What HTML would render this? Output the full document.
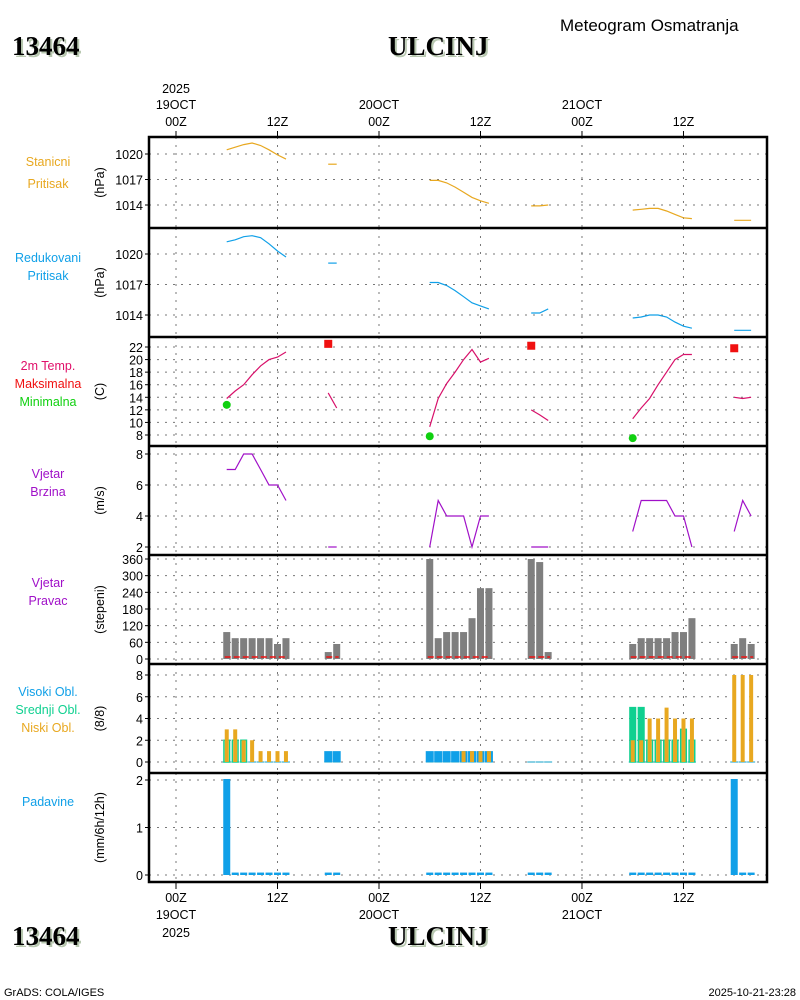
<!DOCTYPE html>
<html><head><meta charset="utf-8"><style>
html,body{margin:0;padding:0;background:#fff;}
svg{display:block;}
text{font-family:"Liberation Sans Narrow","Liberation Sans",sans-serif;}
.serif{font-family:"Liberation Serif",serif;font-weight:bold;}
</style></head><body>
<svg id="chart" width="800" height="1000" viewBox="0 0 800 1000" xmlns="http://www.w3.org/2000/svg">
<g id="g"></g>
</svg>
<script>
// observation hours since 19OCT 00Z
const obsHours = [6,7,8,9,10,11,12,13, 18,19, 30,31,32,33,34,35,36,37, 42,43,44, 54,55,56,57,58,59,60,61, 66,67,68];
const stationPressure = [1020.5,1020.8,1021.1,1021.3,1021.0,1020.5,1019.9,1019.4, 1018.8,1018.8, 1016.9,1016.9,1016.6,1016.1,1015.5,1014.9,1014.5,1014.2, 1013.9,1013.9,1014.0, 1013.4,1013.5,1013.6,1013.6,1013.3,1012.9,1012.5,1012.4, 1012.2,1012.2,1012.2];
const reducedPressure = [1021.2,1021.4,1021.7,1021.8,1021.6,1021.0,1020.3,1019.7, 1019.1,1019.1, 1017.2,1017.2,1016.9,1016.4,1015.8,1015.2,1014.9,1014.6, 1014.2,1014.2,1014.6, 1013.7,1013.8,1014.0,1014.0,1013.8,1013.3,1012.9,1012.7, 1012.5,1012.5,1012.5];
const temperature = [13.8,15.0,16.0,17.6,19.0,20.0,20.4,21.2, 14.7,12.3, 9.3,13.8,16.2,18.0,20.0,21.6,19.6,20.2, 12.0,11.2,10.3, 10.6,12.3,13.8,16.0,18.0,20.0,20.8,20.8, 14.0,13.8,14.0];
const maxHours = [18,42,66];
const maxTemp = [22.5,22.2,21.8];
const minHours = [6,30,54];
const minTemp = [12.8,7.8,7.5];
const windSpeed = [7,7,8,8,7,6,6,5, 2,2, 2,5,4,4,4,2,4,4, 2,2,2, 3,5,5,5,5,4,4,2, 3,5,4];
const windDir = [97,75,75,75,75,75,54,75, 25,54, 360,75,97,97,97,147,255,255, 360,349,25, 54,75,75,75,75,97,97,147, 54,75,54];
const cloudHigh = [0,0,0,0,0,0,0,0, 1,1, 1,1,1,1,1,1,1,1, 0,0,0, 0,0,0,0,0,0,0,0, 0,0,0];
const cloudMid = [2,2,2,0,0,0,0,0, 0,0, 0,0,0,0,0,0,0,0, 0,0,0, 5,5,2,2,2,2,3,2, 0,0,0];
const cloudLow = [3,3,2,2,1,1,1,1, 0,0, 0,0,0,0,1,1,1,1, 0,0,0, 2,2,4,4,5,4,4,4, 8,8,8];
const precip = [2,0.03,0.03,0.03,0.03,0.03,0.03,0.03, 0.03,0.03, 0.03,0.03,0.03,0.03,0.03,0.03,0.03,0.03, 0.03,0.03,0.03, 0.03,0.03,0.03,0.03,0.03,0.03,0.03,0.03, 2,0.03,0.03];
const xTickHours = [0,12,24,36,48,60];
const xTickTop = ["00Z","12Z","00Z","12Z","00Z","12Z"];
const xTickDay = ["19OCT","","20OCT","","21OCT",""];

const NS="http://www.w3.org/2000/svg";
const G=document.getElementById('g');
function el(tag,attrs,parent){const e=document.createElementNS(NS,tag);for(const k in attrs)e.setAttribute(k,attrs[k]);(parent||G).appendChild(e);return e;}
function txt(x,y,s,opt,name){const t=el('text',Object.assign({x:x,y:y,'font-size':12.5},opt||{}));t.textContent=s;


return t;}
const L=149,R=767;
function X(h){return 176+h*8.458;}
function scale(v1,y1,v2,y2){return v=>y1+(v-v1)*(y2-y1)/(v2-v1);}
const panels=[
 {name:'station-pressure',top:137,bot:228,y:scale(1020,154,1014,205),ticks:[1020,1017,1014],unit:'(hPa)',labels:[['Stanicni','#e8a820'],['Pritisak','#e8a820']],ly:[166,188]},
 {name:'reduced-pressure',top:228,bot:337,y:scale(1020,254,1014,315),ticks:[1020,1017,1014],unit:'(hPa)',labels:[['Redukovani','#10a0e8'],['Pritisak','#10a0e8']],ly:[262,280]},
 {name:'temperature',top:337,bot:446,y:scale(22,347,8,435),ticks:[22,20,18,16,14,12,10,8],unit:'(C)',labels:[['2m Temp.','#e0106a'],['Maksimalna','#f01010'],['Minimalna','#10d010']],ly:[370,388,406]},
 {name:'wind-speed',top:446,bot:555,y:scale(8,454,2,547),ticks:[8,6,4,2],unit:'(m/s)',labels:[['Vjetar','#a010c8'],['Brzina','#a010c8']],ly:[478,496]},
 {name:'wind-direction',top:555,bot:664,y:scale(0,659,360,559),ticks:[360,300,240,180,120,60,0],unit:'(stepeni)',labels:[['Vjetar','#a010c8'],['Pravac','#a010c8']],ly:[587,605]},
 {name:'clouds',top:664,bot:773,y:scale(0,762,8,675),ticks:[8,6,4,2,0],unit:'(8/8)',labels:[['Visoki Obl.','#10a0e8'],['Srednji Obl.','#10d090'],['Niski Obl.','#e8a820']],ly:[696,714,732]},
 {name:'precipitation',top:773,bot:882,y:scale(0,875,2,780),ticks:[2,1,0],unit:'(mm/6h/12h)',labels:[['Padavine','#10a0e8']],ly:[806]}
];
// headers
txt(560,31,'Meteogram Osmatranja',{'font-size':17,fill:'#000'},'chart-subtitle');
[[55,'station-id-top'],[945,'station-id-bottom']].forEach(([y,n])=>{
 txt(14,y+2,'13464',{'font-size':27,class:'serif',fill:'#b8c8b0'},n+'-shadow');
 txt(12,y,'13464',{'font-size':27,class:'serif',fill:'#000'},n);
 txt(390,y+2,'ULCINJ',{'font-size':27,class:'serif',fill:'#b8c8b0'},n.replace('station-id','station-name')+'-shadow');
 txt(388,y,'ULCINJ',{'font-size':27,class:'serif',fill:'#000'},n.replace('station-id','station-name'));
});
txt(176,93,'2025',{'text-anchor':'middle'},'x-year-top');
xTickHours.forEach((h,i)=>{
 txt(X(h),126,xTickTop[i],{'text-anchor':'middle'},'x-tick-top');
 if(xTickDay[i])txt(X(h),109,xTickDay[i],{'text-anchor':'middle'},'x-day-top');
 txt(X(h),902,xTickTop[i],{'text-anchor':'middle'},'x-tick-bottom');
 if(xTickDay[i])txt(X(h),919,xTickDay[i],{'text-anchor':'middle'},'x-day-bottom');
 el('line',{x1:X(h),x2:X(h),y1:131,y2:137,stroke:'#000'});
 el('line',{x1:X(h),x2:X(h),y1:882,y2:889,stroke:'#000'});
});
txt(176,937,'2025',{'text-anchor':'middle'},'x-year-bottom');
txt(4,996,'GrADS: COLA/IGES',{'font-size':11},'footer-credit');
txt(796,996,'2025-10-21-23:28',{'font-size':11,'text-anchor':'end'},'footer-timestamp');

function segments(){const s=[];let cur=[];obsHours.forEach((h,i)=>{if(cur.length&&h-obsHours[cur[cur.length-1]]>1){s.push(cur);cur=[];}cur.push(i);});s.push(cur);return s;}
const segs=segments();
function drawLine(p,vals,color,name){segs.forEach(sg=>{const pts=sg.map(i=>X(obsHours[i]).toFixed(1)+','+p.y(vals[i]).toFixed(1)).join(' ');
 const l=el('polyline',{points:pts,fill:'none',stroke:color,'stroke-width':1.2});
 
 });}

panels.forEach(p=>{
 const g=el('g',{});
 
 
 p.ticks.forEach(t=>{const y=p.y(t);
  el('line',{x1:L,x2:R,y1:y,y2:y,stroke:'#777','stroke-dasharray':'2,6'},g);
  el('line',{x1:145,x2:L,y1:y,y2:y,stroke:'#000'},g);
  txt(143,y+5,String(t),{'text-anchor':'end'},p.name+'-y-tick');
 });
 xTickHours.forEach(h=>el('line',{x1:X(h),x2:X(h),y1:p.top,y2:p.bot,stroke:'#777','stroke-dasharray':'2,6'},g));
 const cy=(p.top+p.bot)/2;
 txt(100,cy,p.unit,{'text-anchor':'middle',transform:`rotate(-90 100 ${cy})`,dy:4},p.name+'-y-axis-title');
 p.labels.forEach((lb,i)=>txt(48,p.ly[i],lb[0],{'text-anchor':'middle',fill:lb[1]},p.name+'-legend-label'));
});
const [P1,P2,P3,P4,P5,P6,P7]=panels;
drawLine(P1,stationPressure,'#e8a820','station-pressure-line');
drawLine(P2,reducedPressure,'#10a0e8','reduced-pressure-line');
drawLine(P3,temperature,'#d8106a','temperature-line');
maxHours.forEach((h,i)=>{const r=el('rect',{x:X(h)-4,y:P3.y(maxTemp[i])-4,width:8,height:8,fill:'#f01010'});
 
 });
minHours.forEach((h,i)=>{const c=el('circle',{cx:X(h),cy:P3.y(minTemp[i]),r:4,fill:'#10d010'});
 
 });
drawLine(P4,windSpeed,'#a010c8','wind-speed-line');
obsHours.forEach((h,i)=>{
 const x=X(h);
 const b=el('rect',{x:x-3.5,y:P5.y(windDir[i]),width:7,height:P5.y(0)-P5.y(windDir[i]),fill:'#7f7f7f'});
 
 
 const y0=P6.y(0);
 el('line',{x1:x-4,x2:x+4,y1:y0,y2:y0,stroke:'#10a0c8'});
 if(cloudHigh[i]>0){const c=el('rect',{x:x-4,y:P6.y(cloudHigh[i]),width:8,height:y0-P6.y(cloudHigh[i]),fill:'#10a0e8'});
  
  }
 if(cloudMid[i]>0){const c=el('rect',{x:x-2.8,y:P6.y(cloudMid[i]),width:5.6,height:y0-P6.y(cloudMid[i]),fill:cloudMid[i]>=5?'#10d090':'none',stroke:'#10d090','stroke-width':1.5});
  
  }
 if(cloudLow[i]>0){const c=el('rect',{x:x-2,y:P6.y(cloudLow[i]),width:4,height:y0-P6.y(cloudLow[i]),fill:'#e8a820'});
  
  }
 const py=P7.y(precip[i]);
 const pr=el('rect',{x:x-3.5,y:py-1,width:7,height:P7.y(0)-py+1,fill:'#10a0e8'});
 
 
});
segs.forEach(sg=>{const x1=X(obsHours[sg[0]])-2,x2=X(obsHours[sg[sg.length-1]])+2;
 const l=el('line',{x1:x1,x2:x2,y1:657,y2:657,stroke:'#f01010','stroke-width':1.5,'stroke-dasharray':'6,3'});
 
 });
panels.slice(1).forEach(p=>el('line',{x1:L,x2:R,y1:p.top,y2:p.top,stroke:'#000','stroke-width':2.5}));
const fr=el('rect',{x:L,y:137,width:R-L,height:745,fill:'none',stroke:'#000','stroke-width':2.5});


</script>
</body></html>
